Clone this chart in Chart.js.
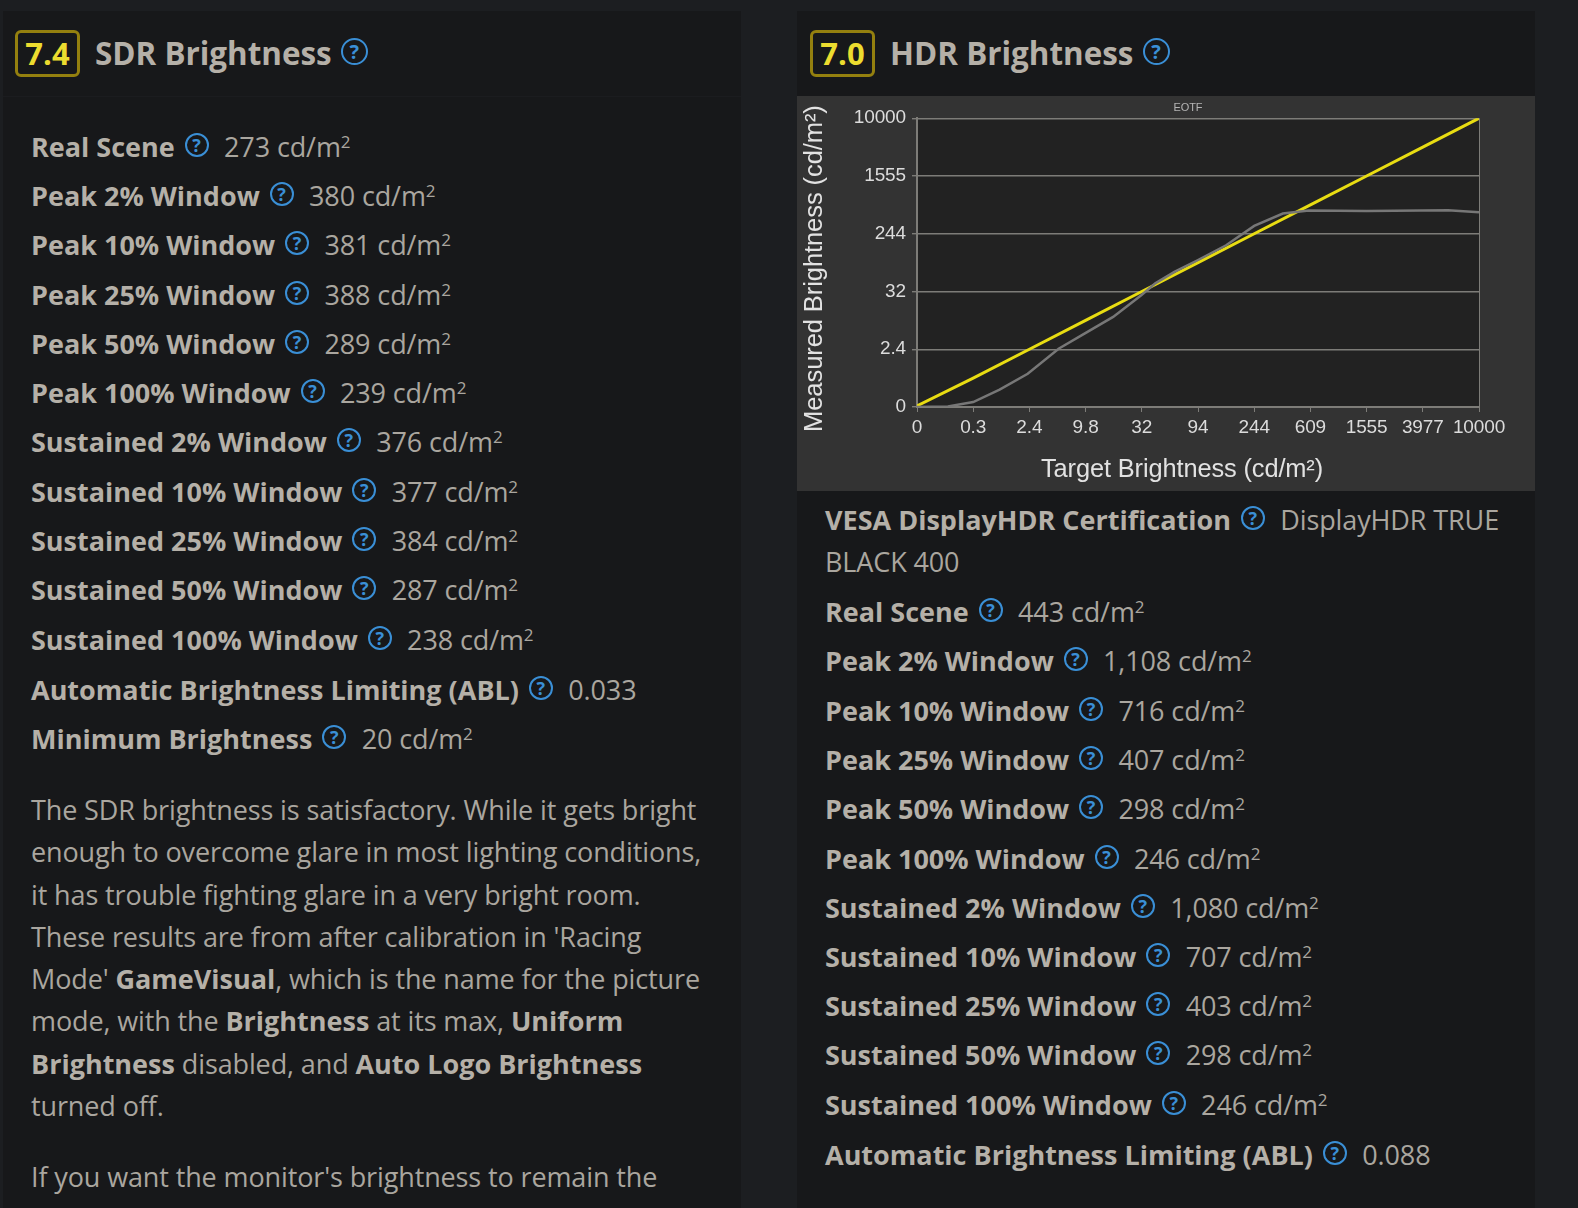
<!DOCTYPE html>
<html lang="en">
  <head>
    <meta charset="UTF-8" />
    <title>SDR and HDR Brightness</title>
    <script src="https://cdn.jsdelivr.net/npm/chart.js@4"></script>
    <style>
      html, body { margin: 0; width: 1578px; height: 1208px; overflow: hidden; background: #1c1e21; }
      body { position: relative; font-family: "Open Sans", sans-serif; color: #aaa69f; font-size: 27px; letter-spacing: -0.12px; }
      .panel { position: absolute; top: 11px; height: 1197px; width: 738px; background: #17181a; }
      #left { left: 3px; }
      #right { left: 797px; }
      .head { position: absolute; top: 0; left: 0; right: 0; height: 85px; border-bottom: 1px solid #1b1c1f; }
      .score { position: absolute; top: 19px; width: 59px; height: 41px; border: 3px solid #94800f; border-radius: 6px;
        color: #ecdc2f; font-weight: 700; font-size: 31px; line-height: 41px; text-align: center; letter-spacing: 0; }
      .title { position: absolute; top: 19px; font-weight: 700; font-size: 31.4px; line-height: 45px; color: #b5b0a8; white-space: nowrap; letter-spacing: 0; }
      .row { position: absolute; white-space: nowrap; line-height: 42px; }
      .row b, .para b { color: #b5b0a8; letter-spacing: 0; }
      .q { display: inline-block; width: 20px; height: 20px; border: 2.5px solid #3a8fd6; border-radius: 50%; color: #3a8fd6;
        font-size: 18px; font-weight: 700; line-height: 20px; text-align: center; vertical-align: 5px; margin: 0 8.5px 0 3px; letter-spacing: 0; }
      .title .q { width: 23px; height: 23px; line-height: 23px; font-size: 20px; margin-left: 1px; vertical-align: 6px; }
      sup { font-size: 17px; line-height: 0; vertical-align: 9px; }
      .para { position: absolute; left: 28px; white-space: nowrap; line-height: 42.3px; }
      #chartBox { position: absolute; left: 797px; top: 96px; width: 738px; height: 395px; background: #333333; }
    </style>
  </head>
  <body>
    <div id="left" class="panel">
      <div class="head">
        <div class="score" style="left:12px">7.4</div>
        <div class="title" style="left:92px">SDR Brightness <span class="q">?</span></div>
      </div>
    </div>
    <div id="right" class="panel">
      <div class="head">
        <div class="score" style="left:13px">7.0</div>
        <div class="title" style="left:93px">HDR Brightness <span class="q">?</span></div>
      </div>
    </div>
    <div id="chartBox"><canvas id="myChart" width="738" height="395"></canvas></div>

    <script>
      // tick labels sit evenly on the PQ signal, so the series are kept in signal %
      const targetTicks = ["0", "0.3", "2.4", "9.8", "32", "94", "244", "609", "1555", "3977", "10000"];
      const measuredTicks = ["0", "2.4", "32", "244", "1555", "10000"];

      const referenceX = [0, 10, 20, 30, 40, 50, 60, 70, 80, 90, 100];
      const referenceY = [0.4, 10, 20, 30, 40, 50, 60, 70, 80, 90, 100];
      const measuredX = [0, 5.5, 10, 14.7, 19.7, 25.2, 29.8, 34.9, 39.9, 42.4, 45.8, 50, 55, 60, 65.1, 69.7, 80, 94.5, 100];
      const measuredY = [0, 0.2, 1.7, 6, 11.5, 20.2, 25.4, 31.2, 38.7, 42.8, 46.8, 50.9, 56, 62.7, 67, 68, 67.9, 68.1, 67.4];

      const sdrLabels = ["Real Scene", "Peak 2% Window", "Peak 10% Window", "Peak 25% Window", "Peak 50% Window", "Peak 100% Window",
        "Sustained 2% Window", "Sustained 10% Window", "Sustained 25% Window", "Sustained 50% Window", "Sustained 100% Window",
        "Automatic Brightness Limiting (ABL)", "Minimum Brightness"];
      const sdrValues = ["273", "380", "381", "388", "289", "239", "376", "377", "384", "287", "238", "0.033", "20"];
      const hdrLabels = ["Real Scene", "Peak 2% Window", "Peak 10% Window", "Peak 25% Window", "Peak 50% Window", "Peak 100% Window",
        "Sustained 2% Window", "Sustained 10% Window", "Sustained 25% Window", "Sustained 50% Window", "Sustained 100% Window",
        "Automatic Brightness Limiting (ABL)"];
      const hdrValues = ["443", "1,108", "716", "407", "298", "246", "1,080", "707", "403", "298", "246", "0.088"];

      const sdrTops = [137, 186, 235, 285, 334, 383, 432, 482, 531, 580, 630, 680, 729];
      const hdrTops = [602, 651, 701, 750, 799, 849, 898, 947, 996, 1045, 1095, 1145];

      function addRow(panel, left, top, html) {
        const row = document.createElement("div");
        row.className = "row";
        row.style.left = left + "px";
        row.style.top = top - 22 + "px";
        row.innerHTML = html;
        panel.appendChild(row);
      }

      function rowHtml(label, value) {
        const unit = value.startsWith("0.") ? "" : " cd/m<sup>2</sup>";
        return "<b>" + label + "</b> <span class=\"q\">?</span> " + value + unit;
      }

      const left = document.getElementById("left");
      const right = document.getElementById("right");
      sdrLabels.forEach((label, i) => addRow(left, 28, sdrTops[i], rowHtml(label, sdrValues[i])));
      hdrLabels.forEach((label, i) => addRow(right, 28, hdrTops[i], rowHtml(label, hdrValues[i])));
      addRow(right, 28, 510, "<b>VESA DisplayHDR Certification</b> <span class=\"q\">?</span> DisplayHDR TRUE<br>BLACK 400");

      const para1 = document.createElement("div");
      para1.className = "para";
      para1.style.top = "778px";
      para1.innerHTML = "The SDR brightness is satisfactory. While it gets bright<br>enough to overcome glare in most lighting conditions,<br>" +
        "it has trouble fighting glare in a very bright room.<br>These results are from after calibration in 'Racing<br>" +
        "Mode' <b>GameVisual</b>, which is the name for the picture<br>mode, with the <b>Brightness</b> at its max, <b>Uniform<br>" +
        "Brightness</b> disabled, and <b>Auto Logo Brightness</b><br>turned off.";
      left.appendChild(para1);
      const para2 = document.createElement("div");
      para2.className = "para";
      para2.style.top = "1145px";
      para2.textContent = "If you want the monitor's brightness to remain the";
      left.appendChild(para2);

      const plotBackground = {
        id: "plotBackground",
        beforeDraw(chart) {
          const a = chart.chartArea;
          chart.ctx.fillStyle = "#222222";
          chart.ctx.fillRect(a.left, a.top, a.width, a.height);
        }
      };

      // the original titles sit a little off the plot centre
      function nudgeTitle(scale, dx, dy) {
        const draw = scale.drawTitle;
        scale.drawTitle = function () {
          this.left += dx; this.right += dx; this.top += dy; this.bottom += dy;
          draw.call(this);
          this.left -= dx; this.right -= dx; this.top -= dy; this.bottom -= dy;
        };
      }
      const titleOffsets = {
        id: "titleOffsets",
        afterLayout(chart) {
          chart.titleBlock.left -= 10;
          chart.titleBlock.right -= 10;
          nudgeTitle(chart.scales.x, -16, 0);
          nudgeTitle(chart.scales.y, 0, 6);
        }
      };

      const lineGrey = "#7d7c78";
      const font = "'Liberation Sans', Arial, sans-serif";
      new Chart(document.getElementById("myChart").getContext("2d"), {
        type: "line",
        plugins: [plotBackground, titleOffsets],
        data: {
          datasets: [
            {
              label: "Measured",
              data: measuredX.map((x, i) => ({ x: x, y: measuredY[i] })),
              borderColor: "#777777",
              borderWidth: 2.5,
              pointRadius: 0
            },
            {
              label: "Reference",
              data: referenceX.map((x, i) => ({ x: x, y: referenceY[i] })),
              borderColor: "#e8dc12",
              borderWidth: 3,
              pointRadius: 0
            }
          ]
        },
        options: {
          responsive: false,
          animation: false,
          layout: { padding: { right: 56 } },
          plugins: {
            legend: { display: false },
            tooltip: { enabled: false },
            title: {
              display: true,
              text: "EOTF",
              fullSize: false,
              color: "#b4b4b4",
              font: { family: font, size: 11, weight: "normal" },
              padding: { top: 5, bottom: 4 }
            }
          },
          scales: {
            x: {
              type: "linear",
              min: 0,
              max: 100,
              afterFit(scale) { scale.height = 84; },
              border: { color: lineGrey, width: 2 },
              grid: {
                color: ctx => (ctx.index === 0 || ctx.index === 10 ? lineGrey : "transparent"),
                tickColor: lineGrey,
                tickLength: 5
              },
              ticks: {
                stepSize: 10,
                autoSkip: false,
                maxRotation: 0,
                color: "#dcdcdc",
                padding: 4,
                font: { family: font, size: 19 },
                callback: (v, i) => targetTicks[i]
              },
              title: {
                display: true,
                text: "Target Brightness (cd/m²)",
                color: "#e2e2e2",
                font: { family: font, size: 25.4 },
                padding: { top: 0, bottom: 6 }
              }
            },
            y: {
              min: 0,
              max: 100,
              afterFit(scale) { scale.width = 120; },
              border: { color: lineGrey, width: 2 },
              grid: { color: lineGrey, lineWidth: 1.4, tickLength: 5 },
              ticks: {
                stepSize: 20,
                color: "#dcdcdc",
                padding: 6,
                font: { family: font, size: 19 },
                callback: (v, i) => measuredTicks[i]
              },
              title: {
                display: true,
                text: "Measured Brightness (cd/m²)",
                color: "#e2e2e2",
                font: { family: font, size: 25.6 },
                padding: { top: 3, bottom: 0 }
              }
            }
          }
        }
      });
    </script>
  </body>
</html>
